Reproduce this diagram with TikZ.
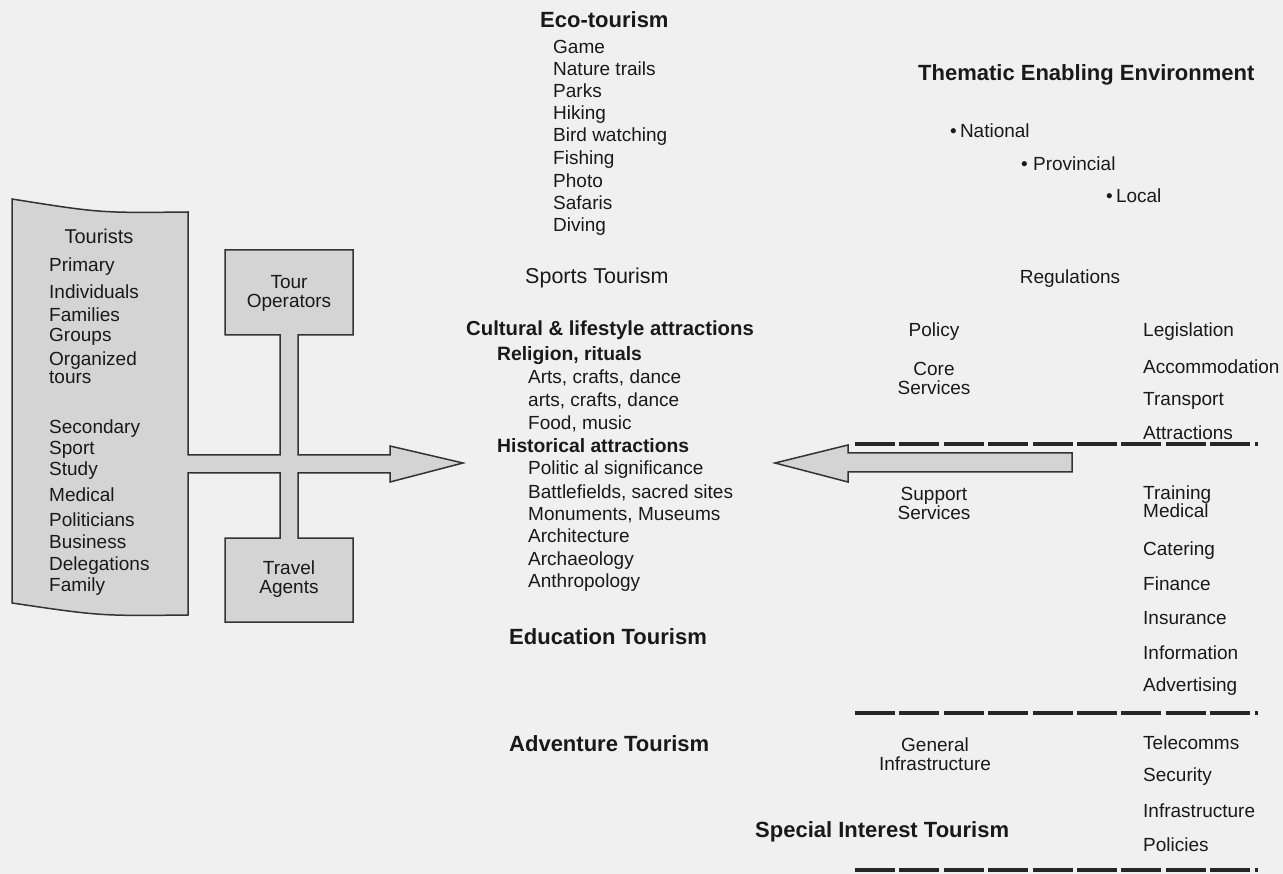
\documentclass[tikz,border=0pt]{standalone}
\usepackage{fontspec}
\setmainfont{Liberation Sans}
\begin{document}
\begin{tikzpicture}[x=1pt,y=-1pt,
    txt/.style={inner sep=0pt, anchor=mid west, yshift=-5pt, text=black!90, font=\fontsize{19}{22}\selectfont},
    ctxt/.style={inner sep=0pt, align=center, yshift=-1.5pt, text=black!90, font=\fontsize{19}{19}\selectfont},
    head/.style={txt, font=\bfseries\fontsize{22}{24}\selectfont},
    subhead/.style={txt, font=\bfseries\fontsize{19.3}{22}\selectfont},
    outline/.style={draw=black!80, line width=1.5pt, fill=black!17, line join=miter},
    bar/.style={draw=black!85, line width=4pt, dash pattern=on 40pt off 4.4pt}]
    \useasboundingbox (0,0) rectangle (1283,874);
    \fill[black!6] (0,0) rectangle (1283,874);

    % tourists, operators and agents as one outline with the arrow
    \draw[outline] (12,199) .. controls (100,213) .. (188,212)
        -- (188,455) -- (280,455) -- (280,335) -- (225,335) -- (225,250) -- (353,250)
        -- (353,335) -- (298,335) -- (298,455) -- (390,455) -- (390,446) -- (463,463)
        -- (390,482) -- (390,473) -- (298,473) -- (298,538) -- (353,538) -- (353,622)
        -- (225,622) -- (225,538) -- (280,538) -- (280,473) -- (188,473)
        -- (188,615) .. controls (100,616) .. (12,603) -- cycle;

    \node[ctxt, font=\fontsize{20}{22}\selectfont] (tourists) at (99,235) {Tourists};
    \node[txt] (t1) at (49,264) {Primary};
    \node[txt] (t2) at (49,291) {Individuals};
    \node[txt] (t3) at (49,314) {Families};
    \node[txt] (t4) at (49,334) {Groups};
    \node[txt] (t5) at (49,358) {Organized};
    \node[txt] (t6) at (49,376) {tours};
    \node[txt] (t7) at (49,426) {Secondary};
    \node[txt] (t8) at (49,447) {Sport};
    \node[txt] (t9) at (49,468) {Study};
    \node[txt] (t10) at (49,494) {Medical};
    \node[txt] (t11) at (49,519) {Politicians};
    \node[txt] (t12) at (49,541) {Business};
    \node[txt] (t13) at (49,563) {Delegations};
    \node[txt] (t14) at (49,584) {Family};

    \node[ctxt] (operators) at (289,292) {Tour\\Operators};
    \node[ctxt] (agents) at (289,578) {Travel\\Agents};

    % middle column
    \node[head] (eco) at (540,20) {Eco-tourism};
    \node[txt] (e1) at (553,46) {Game};
    \node[txt] (e2) at (553,68) {Nature trails};
    \node[txt] (e3) at (553,90) {Parks};
    \node[txt] (e4) at (553,112) {Hiking};
    \node[txt] (e5) at (553,134) {Bird watching};
    \node[txt] (e6) at (553,157) {Fishing};
    \node[txt] (e7) at (553,180) {Photo};
    \node[txt] (e8) at (553,202) {Safaris};
    \node[txt] (e9) at (553,224) {Diving};

    \node[txt, font=\fontsize{21.5}{24}\selectfont] (sports) at (525,276) {Sports Tourism};

    \node[head, font=\bfseries\fontsize{20.3}{22}\selectfont] (cultural) at (466,328) {Cultural \& lifestyle attractions};
    \node[subhead] (religion) at (497,353) {Religion, rituals};
    \node[txt] (c1) at (528,376) {Arts, crafts, dance};
    \node[txt] (c2) at (528,399) {arts, crafts, dance};
    \node[txt] (c3) at (528,422) {Food, music};
    \node[subhead] (historical) at (497,445) {Historical attractions};
    \node[txt] (h1) at (528,467) {Politic al significance};
    \node[txt] (h2) at (528,491) {Battlefields, sacred sites};
    \node[txt] (h3) at (528,513) {Monuments, Museums};
    \node[txt] (h4) at (528,535) {Architecture};
    \node[txt] (h5) at (528,558) {Archaeology};
    \node[txt] (h6) at (528,580) {Anthropology};

    \node[head] (education) at (509,637) {Education Tourism};
    \node[head] (adventure) at (509,744) {Adventure Tourism};
    \node[head] (special) at (755,830) {Special Interest Tourism};

    % enabling environment
    \node[head] (thematic) at (918,73) {Thematic Enabling Environment};
    \node[txt] (national) at (950,130) {•\,National};
    \node[txt] (provincial) at (1021,163) {• Provincial};
    \node[txt] (local) at (1106,195) {•\,Local};
    \node[ctxt] (regulations) at (1070,277) {Regulations};

    \node[ctxt] (policy) at (934,330) {Policy};
    \node[ctxt] (core) at (934,377) {Core\\Services};
    \node[ctxt] (support) at (934,502) {Support\\Services};
    \node[ctxt] (general) at (935,753) {General\\Infrastructure};

    \node[txt] (r1) at (1143,329) {Legislation};
    \node[txt] (r2) at (1143,366) {Accommodation};
    \node[txt] (r3) at (1143,398) {Transport};
    \node[txt] (r4) at (1143,432) {Attractions};
    \node[txt] (r5) at (1143,492) {Training};
    \node[txt] (r6) at (1143,510) {Medical};
    \node[txt] (r7) at (1143,548) {Catering};
    \node[txt] (r8) at (1143,583) {Finance};
    \node[txt] (r9) at (1143,617) {Insurance};
    \node[txt] (r10) at (1143,652) {Information};
    \node[txt] (r11) at (1143,684) {Advertising};
    \node[txt] (r12) at (1143,742) {Telecomms};
    \node[txt] (r13) at (1143,774) {Security};
    \node[txt] (r14) at (1143,810) {Infrastructure};
    \node[txt] (r15) at (1143,844) {Policies};

    % separators
    \coordinate (s1a) at (855,444);
    \coordinate (s1b) at (1258,444);
    \coordinate (s2a) at (855,713);
    \coordinate (s2b) at (1258,713);
    \coordinate (s3a) at (855,870);
    \coordinate (s3b) at (1258,870);
    \draw[bar] (s1a) -- (s1b);
    \draw[bar] (s2a) -- (s2b);
    \draw[bar] (s3a) -- (s3b);

    % arrow back to the attractions
    \draw[outline] (1072,453) -- (848,453) -- (848,445) -- (775,463) -- (848,482)
        -- (848,472) -- (1072,472) -- cycle;
\end{tikzpicture}
\end{document}
